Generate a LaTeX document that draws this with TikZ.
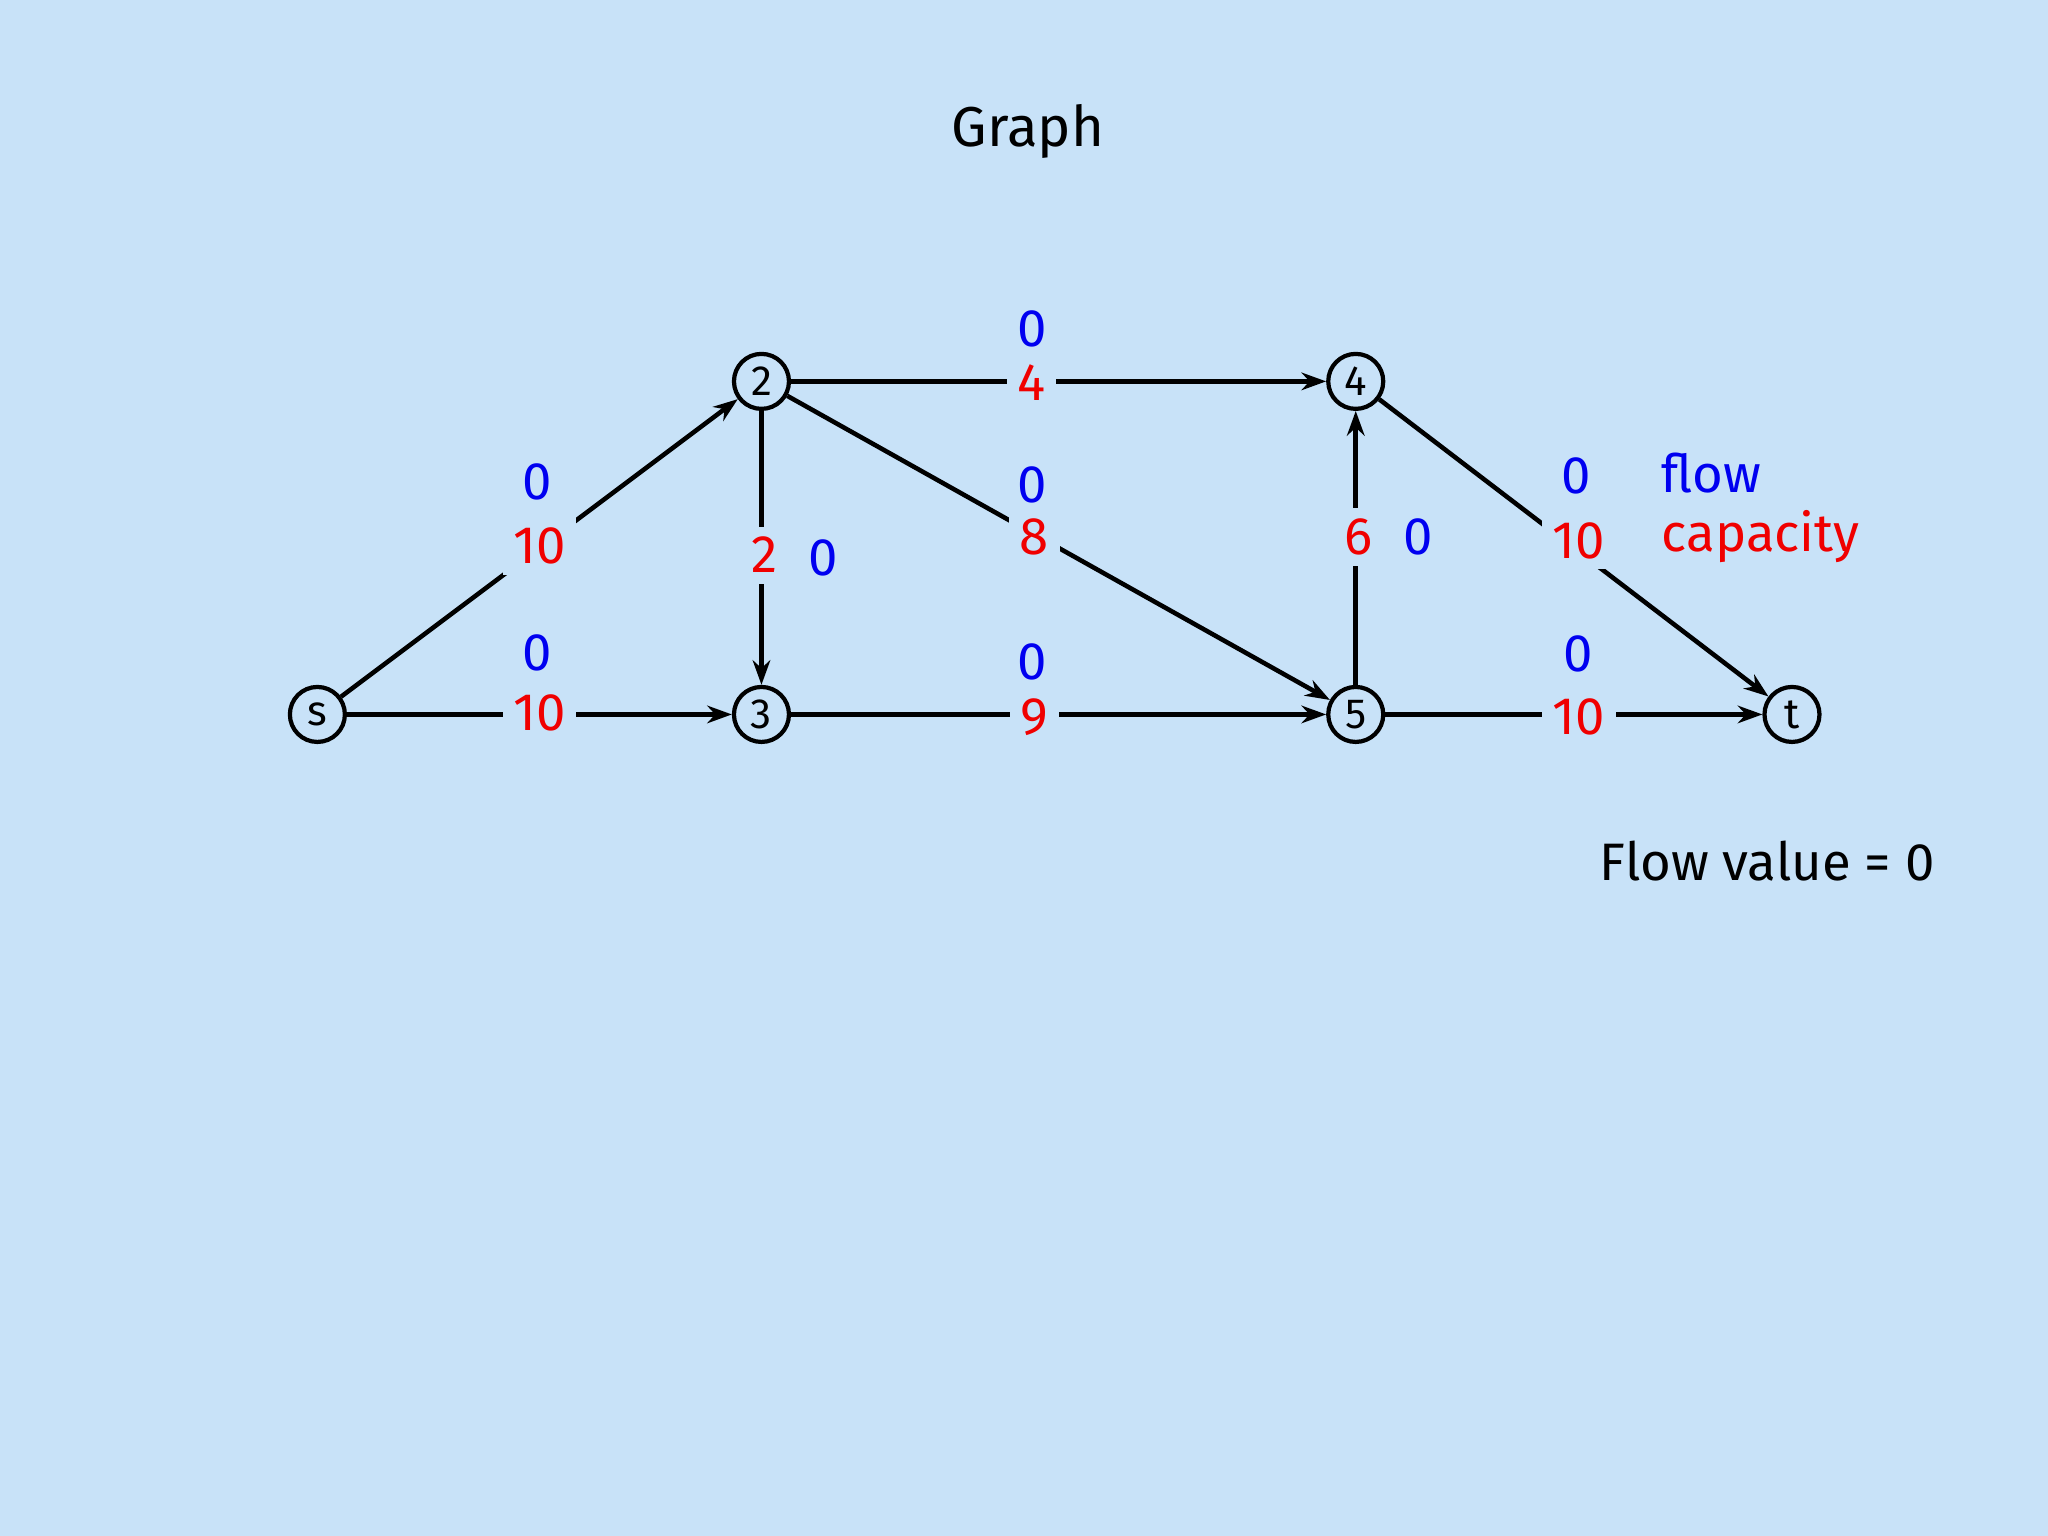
\documentclass[tikz,border=0pt]{standalone}
\usepackage{fontspec}
\setmainfont{Fira Sans}
\usetikzlibrary{arrows.meta}
\definecolor{bg}{RGB}{200,226,248}
\definecolor{fblue}{RGB}{0,0,240}
\definecolor{fred}{RGB}{240,0,0}
\begin{document}
\begin{tikzpicture}[x=0.013061cm,y=-0.013061cm,
  vert/.style={circle,draw,line width=1.2pt,minimum size=0.55cm,inner sep=0pt,font=\fontsize{12}{14}\selectfont},
  edge/.style={line width=1.3pt,-{Stealth[length=7pt,width=5pt]}},
  caplab/.style={text=fred,fill=bg,inner sep=3pt,font=\fontsize{15}{17}\selectfont},
  flw/.style={text=fblue,inner sep=1pt,font=\fontsize{15}{17}\selectfont}]
\fill[bg] (0,0) rectangle (1568,1176);
\node[font=\fontsize{16}{19}\selectfont] (title) at (787,101) {Graph};
\node[vert] (s) at (243,547) {s};
\node[vert] (n2) at (583,292) {2};
\node[vert] (n3) at (583,547) {3};
\node[vert] (n4) at (1038,292) {4};
\node[vert] (n5) at (1038,547) {5};
\node[vert] (t) at (1372,547) {t};
\draw[edge] (s) -- (n2);
\draw[edge] (s) -- (n3);
\draw[edge] (n2) -- (n3);
\draw[edge] (n2) -- (n4);
\draw[edge] (n2) -- (n5);
\draw[edge] (n3) -- (n5);
\draw[edge] (n5) -- (n4);
\draw[edge] (n4) -- (t);
\draw[edge] (n5) -- (t);
\node[caplab] (c1) at (413,418) {10}; \node[flw] (f1) at (411,369) {0};
\node[caplab] (c2) at (413,546) {10}; \node[flw] (f2) at (411,500) {0};
\node[caplab] (c3) at (585,425) {2};  \node[flw] (f3) at (630,427) {0};
\node[caplab] (c4) at (790,293) {4};  \node[flw] (f4) at (790,252) {0};
\node[caplab] (c5) at (792,411) {8};  \node[flw] (f5) at (790,371) {0};
\node[caplab] (c6) at (792,549) {9};  \node[flw] (f6) at (790,507) {0};
\node[caplab] (c7) at (1040,411) {6}; \node[flw] (f7) at (1086,411) {0};
\node[caplab] (c8) at (1209,414) {10}; \node[flw] (f8) at (1207,364) {0};
\node[caplab] (c9) at (1209,549) {10}; \node[flw] (f9) at (1208,501) {0};
\node[flw] (lf) at (1310,362) {flow};
\node[caplab,fill=none] (lc) at (1348,411) {capacity};
\node[font=\fontsize{15}{17}\selectfont] (fv) at (1353,659) {Flow value = 0};
\end{tikzpicture}
\end{document}
